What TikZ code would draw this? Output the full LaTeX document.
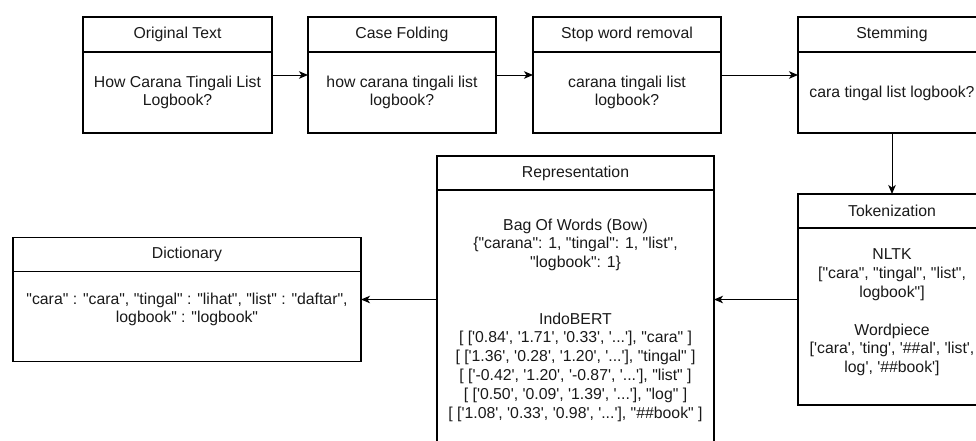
\documentclass[tikz,border=0pt]{standalone}
\usepackage{fontspec}
\setmainfont{Liberation Sans}[Ligatures=TeXOff]
\usetikzlibrary{arrows.meta}
\begin{document}
\begin{tikzpicture}[x=1pt,y=-1pt,
  box/.style={draw=black, line width=1.3pt, rectangle, inner sep=0pt, outer sep=0pt},
  hdr/.style={draw=black, line width=1.3pt},
  ttl/.style={font=\fontsize{15.8}{19}\selectfont, inner sep=0pt, text=black!90},
  body/.style={font=\fontsize{15.8}{18.8}\selectfont, align=center, inner sep=0pt, text=black!90},
  conn/.style={draw=black, line width=1pt, -{Stealth[length=9pt,width=7.5pt,inset=2.5pt]}},
]
\useasboundingbox (0,0) rectangle (976,440);

% boxes
\node[box, minimum width=189pt, minimum height=116pt] (orig) at (177.5,75) {};
\node[box, minimum width=188pt, minimum height=116pt] (case) at (402,75) {};
\node[box, minimum width=188pt, minimum height=116pt] (stop) at (627,75) {};
\node[box, minimum width=188pt, minimum height=116pt] (stem) at (892,75) {};
\node[box, minimum width=188pt, minimum height=211pt] (tok) at (892,299.5) {};
\node[box, minimum width=277pt, minimum height=287pt] (repr) at (575.5,299.5) {};
\node[box, minimum width=348pt, minimum height=124pt] (dict) at (187,299.5) {};

% header separators
\foreach \n in {orig,case,stop,stem}{
  \draw[hdr] ([yshift=-35pt]\n.north west) -- ([yshift=-35pt]\n.north east);
}
\foreach \n in {tok,repr,dict}{
  \draw[hdr] ([yshift=-34pt]\n.north west) -- ([yshift=-34pt]\n.north east);
}

% titles
\node[ttl] (origT) at ([yshift=-17.5pt]orig.north) {Original Text};
\node[ttl] (caseT) at ([yshift=-17.5pt]case.north) {Case Folding};
\node[ttl] (stopT) at ([yshift=-17.5pt]stop.north) {Stop word removal};
\node[ttl] (stemT) at ([yshift=-17.5pt]stem.north) {Stemming};
\node[ttl] (tokT) at ([yshift=-17pt]tok.north) {Tokenization};
\node[ttl] (reprT) at ([yshift=-17pt]repr.north) {Representation};
\node[ttl] (dictT) at ([yshift=-17pt]dict.north) {Dictionary};

% bodies
\node[body] (origB) at (177.5,92.5) {How Carana Tingali List\\Logbook?};
\node[body] (caseB) at (402,92.5) {how carana tingali list\\logbook?};
\node[body] (stopB) at (627,92.5) {carana tingali list\\logbook?};
\node[body] (stemB) at (892,93) {cara tingal list logbook?};
\node[body] (tokB) at (892,312.5) {NLTK\\\relax["cara", "tingal", "list",\\logbook"]\\[18.8pt]Wordpiece\\\relax['cara', 'ting', '\#\#al', 'list',\\log', '\#\#book']};
\node[body] (reprB) at (575.5,320) {Bag Of Words (Bow)\\\{"carana": 1, "tingal": 1, "list",\\"logbook": 1\}\\[37.6pt]IndoBERT\\\relax[ ['0.84', '1.71', '0.33', '...'], "cara" ]\\\relax[ ['1.36', '0.28', '1.20', '...'], "tingal" ]\\\relax[ ['-0.42', '1.20', '-0.87', '...'], "list" ]\\\relax[ ['0.50', '0.09', '1.39', '...'], "log" ]\\\relax[ ['1.08', '0.33', '0.98', '...'], "\#\#book" ]};
\node[body] (dictB) at (187,309.5) {"cara" : "cara", "tingal" : "lihat", "list" : "daftar",\\logbook" : "logbook"};

% connectors
\draw[conn] (orig) -- (case);
\draw[conn] (case) -- (stop);
\draw[conn] (stop) -- (stem);
\draw[conn] (stem) -- (tok);
\draw[conn] (tok) -- (repr);
\draw[conn] (repr) -- (dict);
\end{tikzpicture}
\end{document}
